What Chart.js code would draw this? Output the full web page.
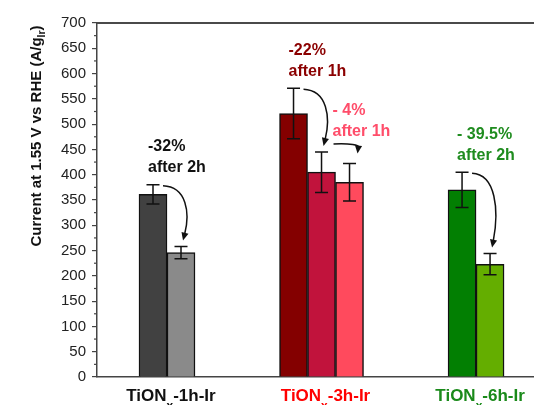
<!DOCTYPE html>
<html><head><meta charset="utf-8">
<script src="https://cdn.jsdelivr.net/npm/chart.js@4/dist/chart.umd.min.js"></script>
<style>html,body{margin:0;padding:0;background:#fff}#wrap{width:534px;height:405px;position:relative}</style>
</head><body><div id="wrap"><canvas id="c"></canvas></div>
<script>
// ---- data ----
const categories = ['TiON_x-1h-Ir', 'TiON_x-3h-Ir', 'TiON_x-6h-Ir'];
const categoryLabelColors = ['#111111', '#ff0000', '#1a8a1a'];
const seriesA = [361, 521, 370];     // first bar of each group
const seriesB = [246, 405, 223];     // second bar
const seriesC = [null, 385, null];   // third bar (3h only)
const errorA = [19, 50, 35];
const errorB = [12, 40, 21];
const errorC = [null, 37, null];
const colorsA = ['#414141', '#840000', '#027f02'];
const colorsB = ['#8a8a8a', '#c1133c', '#64ae00'];
const colorsC = ['#000000', '#ff4a5d', '#000000'];
const yTickValues = [0, 50, 100, 150, 200, 250, 300, 350, 400, 450, 500, 550, 600, 650, 700];
const yAxisTitle = 'Current at 1.55 V vs RHE (A/g_{Ir})';
const annotations = [
  { lines: ['-32%', 'after 2h'], color: '#111111', group: 0, from: 0, to: 1, kind: 'big' },
  { lines: ['-22%', 'after 1h'], color: '#8b0000', group: 1, from: 0, to: 1, kind: 'big' },
  { lines: ['- 4%', 'after 1h'], color: '#ff4d6a', group: 1, from: 1, to: 2, kind: 'small' },
  { lines: ['- 39.5%', 'after 2h'], color: '#1f8c1f', group: 2, from: 0, to: 1, kind: 'big' }
];

const FONT = "'Liberation Sans', Arial, sans-serif";
const seriesVals = [seriesA, seriesB, seriesC];
const seriesErr = [errorA, errorB, errorC];
const seriesCol = [colorsA, colorsB, colorsC];

function parseRich(s) {
  const out = []; const re = /_\{([^}]*)\}|_(\w)/g; let last = 0, m;
  while ((m = re.exec(s))) {
    if (m.index > last) out.push({ t: s.slice(last, m.index), sub: false });
    out.push({ t: m[1] || m[2], sub: true }); last = re.lastIndex;
  }
  if (last < s.length) out.push({ t: s.slice(last), sub: false });
  return out;
}
function richWidth(ctx, segs, size) {
  let w = 0;
  for (const sg of segs) { ctx.font = 'bold ' + (sg.sub ? size * 0.7 : size) + 'px ' + FONT; w += ctx.measureText(sg.t).width; }
  return w;
}
function drawRich(ctx, segs, x, y, size, color, subShift) {
  ctx.fillStyle = color; ctx.textBaseline = 'alphabetic'; ctx.textAlign = 'left';
  for (const sg of segs) {
    const fs = sg.sub ? size * 0.7 : size;
    ctx.font = 'bold ' + fs + 'px ' + FONT;
    ctx.fillText(sg.t, x, sg.sub ? y + size * subShift : y);
    x += ctx.measureText(sg.t).width;
  }
}

const datasets = seriesVals.map((vals, k) => ({
  data: vals.map((v, i) => ({ x: i + 1, y: v })),
  backgroundColor: seriesCol[k],
  borderColor: '#111111',
  borderWidth: 1.5,
  barThickness: 28,
  skipNull: true
}));

const overlay = {
  id: 'overlay',
  afterDatasetsDraw(chart) {
    const ctx = chart.ctx, y = chart.scales.y, ca = chart.chartArea;
    ctx.save();
    // top frame line
    ctx.strokeStyle = '#4a4a4a'; ctx.lineWidth = 2;
    ctx.beginPath(); ctx.moveTo(ca.left, ca.top); ctx.lineTo(ca.right, ca.top); ctx.stroke();
    // minor ticks
    ctx.lineWidth = 1.2; ctx.strokeStyle = '#444';
    for (let i = 0; i < yTickValues.length - 1; i++) {
      const v = (yTickValues[i] + yTickValues[i + 1]) / 2, py = y.getPixelForValue(v);
      ctx.beginPath(); ctx.moveTo(ca.left - 3, py); ctx.lineTo(ca.left, py); ctx.stroke();
    }
    // error bars
    ctx.strokeStyle = '#111'; ctx.lineWidth = 1.5;
    seriesVals.forEach((vals, k) => {
      const meta = chart.getDatasetMeta(k);
      vals.forEach((v, i) => {
        if (v == null) return;
        const e = seriesErr[k][i], bx = meta.data[i].x;
        const top = y.getPixelForValue(v + e), bot = y.getPixelForValue(v - e);
        ctx.beginPath();
        ctx.moveTo(bx, top); ctx.lineTo(bx, bot);
        ctx.moveTo(bx - 6.5, top); ctx.lineTo(bx + 6.5, top);
        ctx.moveTo(bx - 6.5, bot); ctx.lineTo(bx + 6.5, bot);
        ctx.stroke();
      });
    });
    // annotations
    annotations.forEach(a => {
      const m1 = chart.getDatasetMeta(a.from), m2 = chart.getDatasetMeta(a.to);
      const b1 = m1.data[a.group].x, b2 = m2.data[a.group].x;
      const t1 = y.getPixelForValue(seriesVals[a.from][a.group] + seriesErr[a.from][a.group]);
      const t2 = y.getPixelForValue(seriesVals[a.to][a.group] + seriesErr[a.to][a.group]);
      let s, e, c1, c2, tx, ty;
      if (a.kind === 'big') {
        s = [b1 + 10, t1 + 1]; e = [b2 + 2, t2 - 6];
        c1 = [e[0] + 4, s[1] + 1]; c2 = [e[0] + 7, e[1] - (e[1] - s[1]) * 0.5];
        tx = b1 - 5; ty = t1;
      } else {
        s = [b1 + 12, t1 - 8]; e = [b2 + 8, t2 - 10];
        c1 = [s[0] + 18, s[1] - 1]; c2 = [e[0] + 1, e[1] - 8];
        tx = b1 + 11; ty = t1 - 3;
      }
      ctx.strokeStyle = '#111'; ctx.fillStyle = '#111'; ctx.lineWidth = 1.5;
      const ang = Math.atan2(e[1] - c2[1], e[0] - c2[0]);
      const L = 8, W = 3.6;
      const ex = e[0] - Math.cos(ang) * (L - 1), ey = e[1] - Math.sin(ang) * (L - 1);
      ctx.beginPath(); ctx.moveTo(s[0], s[1]); ctx.bezierCurveTo(c1[0], c1[1], c2[0], c2[1], ex, ey); ctx.stroke();
      ctx.beginPath();
      ctx.moveTo(e[0], e[1]);
      ctx.lineTo(e[0] - Math.cos(ang) * L + Math.sin(ang) * W, e[1] - Math.sin(ang) * L - Math.cos(ang) * W);
      ctx.lineTo(e[0] - Math.cos(ang) * L - Math.sin(ang) * W, e[1] - Math.sin(ang) * L + Math.cos(ang) * W);
      ctx.closePath(); ctx.fill();
      ctx.fillStyle = a.color; ctx.font = 'bold 16px ' + FONT; ctx.textAlign = 'left'; ctx.textBaseline = 'middle';
      ctx.fillText(a.lines[0], tx, ty - 38);
      ctx.fillText(a.lines[1], tx, ty - 17);
    });
    // category labels
    const xs = chart.scales.x;
    categories.forEach((c, i) => {
      const segs = parseRich(c), w = richWidth(ctx, segs, 17);
      drawRich(ctx, segs, xs.getPixelForValue(i + 1) - w / 2 + 4, 401, 17, categoryLabelColors[i], 0.5);
    });
    // y axis title
    const tsegs = parseRich(yAxisTitle), tw = richWidth(ctx, tsegs, 15);
    ctx.save(); ctx.translate(41, 136); ctx.rotate(-Math.PI / 2);
    drawRich(ctx, tsegs, -tw / 2, 0, 15, '#111', 0.25);
    ctx.restore();
    ctx.restore();
  }
};

new Chart(document.getElementById('c'), {
  type: 'bar',
  data: { datasets },
  plugins: [overlay],
  options: {
    responsive: true, maintainAspectRatio: false, animation: false,
    layout: { padding: { top: 23, right: 0, left: 0, bottom: 0 } },
    plugins: { legend: { display: false }, tooltip: { enabled: false } },
    scales: {
      x: {
        type: 'linear', min: 0.547, max: 3.375, offset: false,
        grid: { display: false },
        border: { display: true, color: '#444', width: 1.5 },
        ticks: { display: false },
        afterFit: s => { s.height = 28; }
      },
      y: {
        min: 0, max: 700,
        afterBuildTicks: s => { s.ticks = yTickValues.map(v => ({ value: v })); },
        ticks: { color: '#222', font: { family: FONT, size: 15 }, padding: 6 },
        grid: { drawOnChartArea: false, drawTicks: true, tickLength: 5, color: '#444', lineWidth: 1.2 },
        border: { display: true, color: '#444', width: 1.5 },
        afterFit: s => { s.width = 97; }
      }
    }
  }
});
</script></body></html>
